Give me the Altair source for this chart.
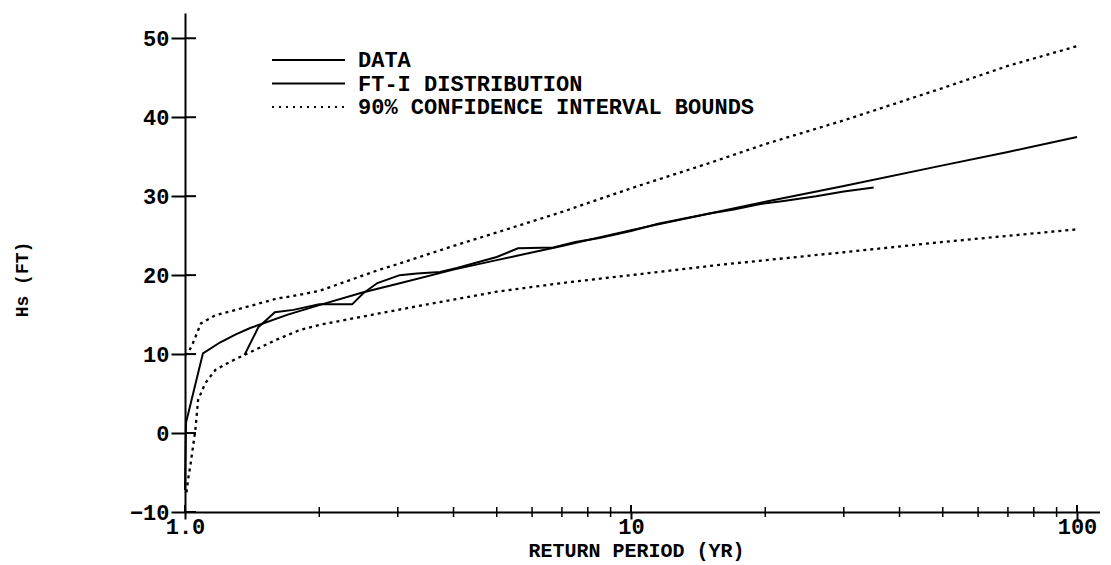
import altair as alt
import pandas as pd

# ---- data ----
# FT-I distribution (solid)
ft_T = [1.0, 1.005, 1.097, 1.2, 1.3, 1.4, 1.5, 1.7, 2.0, 2.5, 3.0, 4.0, 5.0, 7.0, 10, 15, 20, 30, 50, 70, 100]
ft_H = [-7.2, 1.3, 10.1, 11.5, 12.5, 13.3, 13.9, 15.0, 16.2, 17.8, 18.9, 20.7, 21.9, 23.7, 25.7, 27.8, 29.3, 31.3, 33.9, 35.6, 37.5]

# observed data (solid)
data_T = [1.36, 1.46, 1.59, 1.75, 2.0, 2.37, 2.51, 2.70, 3.03, 3.31, 3.73, 4.07, 5.0, 5.58, 6.7,
          7.5, 8.5, 10, 11.5, 13, 15, 17, 19.5, 22, 26, 30, 35]
data_H = [9.9, 13.4, 15.3, 15.6, 16.3, 16.3, 17.7, 19.0, 20.0, 20.2, 20.4, 20.9, 22.3, 23.4, 23.5,
          24.2, 24.7, 25.6, 26.5, 27.1, 27.8, 28.3, 29.0, 29.4, 30.0, 30.6, 31.1]

# 90% confidence bounds (dotted)
up_T = [1.0, 1.016, 1.042, 1.086, 1.168, 1.36, 1.6, 1.8, 2.0, 2.7, 3.0, 4.0, 5.0, 7.0, 10, 15, 20, 30, 50, 70, 100]
up_H = [9.9, 10.1, 11.4, 13.9, 14.9, 15.9, 17.0, 17.5, 18.0, 20.6, 21.4, 23.7, 25.4, 28.0, 31.0, 34.2, 36.6, 39.6, 43.7, 46.5, 49.0]

lo_T = [1.008, 1.016, 1.03, 1.055, 1.07, 1.11, 1.17, 1.26, 1.36, 1.47, 1.6, 1.8, 2.0, 3.0, 4.0, 5.0, 7.0, 10, 15.8, 30, 50, 100]
lo_H = [-7.5, -5.9, -3.8, 0.4, 4.2, 6.3, 8.0, 9.0, 9.9, 10.8, 11.8, 13.0, 13.7, 15.6, 16.9, 17.9, 19.0, 20.0, 21.3, 22.9, 24.2, 25.8]

# axis ticks
y_ticks = [-10, 0, 10, 20, 30, 40, 50]
x_major = [1, 10, 100]
x_minor = [2, 3, 4, 5, 6, 7, 8, 9, 20, 30, 40, 50, 60, 70, 80, 90]

legend_labels = ["DATA", "FT-I DISTRIBUTION", "90% CONFIDENCE INTERVAL BOUNDS"]

# ---- chart ----
W, H = 915, 499
FONT = "Liberation Mono"
FS = 22

x_scale = alt.Scale(type="log", domain=[1, 112.6], nice=False)
y_scale = alt.Scale(domain=[-10, 53.2], nice=False, zero=False)

x_axis = alt.Axis(values=x_major, labelExpr="datum.value == 1 ? '1.0' : datum.label",
                  title="RETURN PERIOD (YR)", grid=False, tickSize=7, tickWidth=2,
                  tickColor="black", domainColor="black", domainWidth=2,
                  labelFont=FONT, labelFontSize=FS, labelFontWeight="bold", labelColor="black",
                  labelPadding=-3, labelFlush=False,
                  titleFont=FONT, titleFontSize=20, titleFontWeight="bold", titleColor="black",
                  titleX=451, titleY=38, titleBaseline="middle")
y_axis = alt.Axis(values=y_ticks, title="Hs (FT)", grid=False, tickSize=14, tickWidth=2,
                  tickColor="black", domainColor="black", domainWidth=2,
                  labelFont=FONT, labelFontSize=FS, labelFontWeight="bold", labelColor="black",
                  labelPadding=2,
                  titleFont=FONT, titleFontSize=18, titleFontWeight="bold", titleColor="black",
                  titleX=-163, titleY=266, titleAngle=270, titleBaseline="middle", titleAlign="center")

X = lambda f: alt.X(f, scale=x_scale, axis=x_axis)
Y = lambda f: alt.Y(f, scale=y_scale, axis=y_axis)

def series(T, Hs):
    return pd.DataFrame({"T": T, "H": Hs})

ft_layer = alt.Chart(series(ft_T, ft_H)).mark_line(color="black", strokeWidth=2).encode(X("T:Q"), Y("H:Q"))
data_layer = alt.Chart(series(data_T, data_H)).mark_line(color="black", strokeWidth=2).encode(X("T:Q"), Y("H:Q"))
up_layer = alt.Chart(series(up_T, up_H)).mark_line(color="black", strokeWidth=2.3, strokeDash=[3, 4]).encode(X("T:Q"), Y("H:Q"))
lo_layer = alt.Chart(series(lo_T, lo_H)).mark_line(color="black", strokeWidth=2.3, strokeDash=[3, 4]).encode(X("T:Q"), Y("H:Q"))

# inward halves of the crossing ticks
y_in = alt.Chart(pd.DataFrame({"v": y_ticks})).mark_rule(color="black", strokeWidth=2).encode(
    Y("v:Q"), x=alt.value(0), x2=alt.value(11))
x_in = alt.Chart(pd.DataFrame({"v": x_major})).mark_rule(color="black", strokeWidth=2).encode(
    X("v:Q"), y=alt.value(H - 7), y2=alt.value(H))
x_min = alt.Chart(pd.DataFrame({"v": x_minor})).mark_rule(color="black", strokeWidth=1.5).encode(
    X("v:Q"), y=alt.value(H - 5), y2=alt.value(H + 5))

one = pd.DataFrame({"k": [0]})
legend_layers = []
for i, lab in enumerate(legend_labels):
    yy = 47 + 23.5 * i
    if i < 2:
        rule = alt.Chart(one).mark_rule(color="black", strokeWidth=2)
    else:
        rule = alt.Chart(one).mark_rule(color="black", strokeWidth=2, strokeDash=[2, 5])
    rule = rule.encode(x=alt.value(87), x2=alt.value(160), y=alt.value(yy))
    txt = alt.Chart(one).mark_text(align="left", baseline="middle", font=FONT, fontSize=FS,
                                   fontWeight="bold", color="black").encode(
        x=alt.value(173), y=alt.value(yy), text=alt.value(lab))
    legend_layers += [rule, txt]

chart = alt.layer(lo_layer, up_layer, data_layer, ft_layer, y_in, x_in, x_min, *legend_layers).properties(
    width=W, height=H, autosize="none",
    padding={"left": 177, "top": 5, "right": 0, "bottom": 50},
    background="white",
).configure_view(stroke=None)

chart.save("out.html", embed_options={"renderer": "svg", "actions": False})
